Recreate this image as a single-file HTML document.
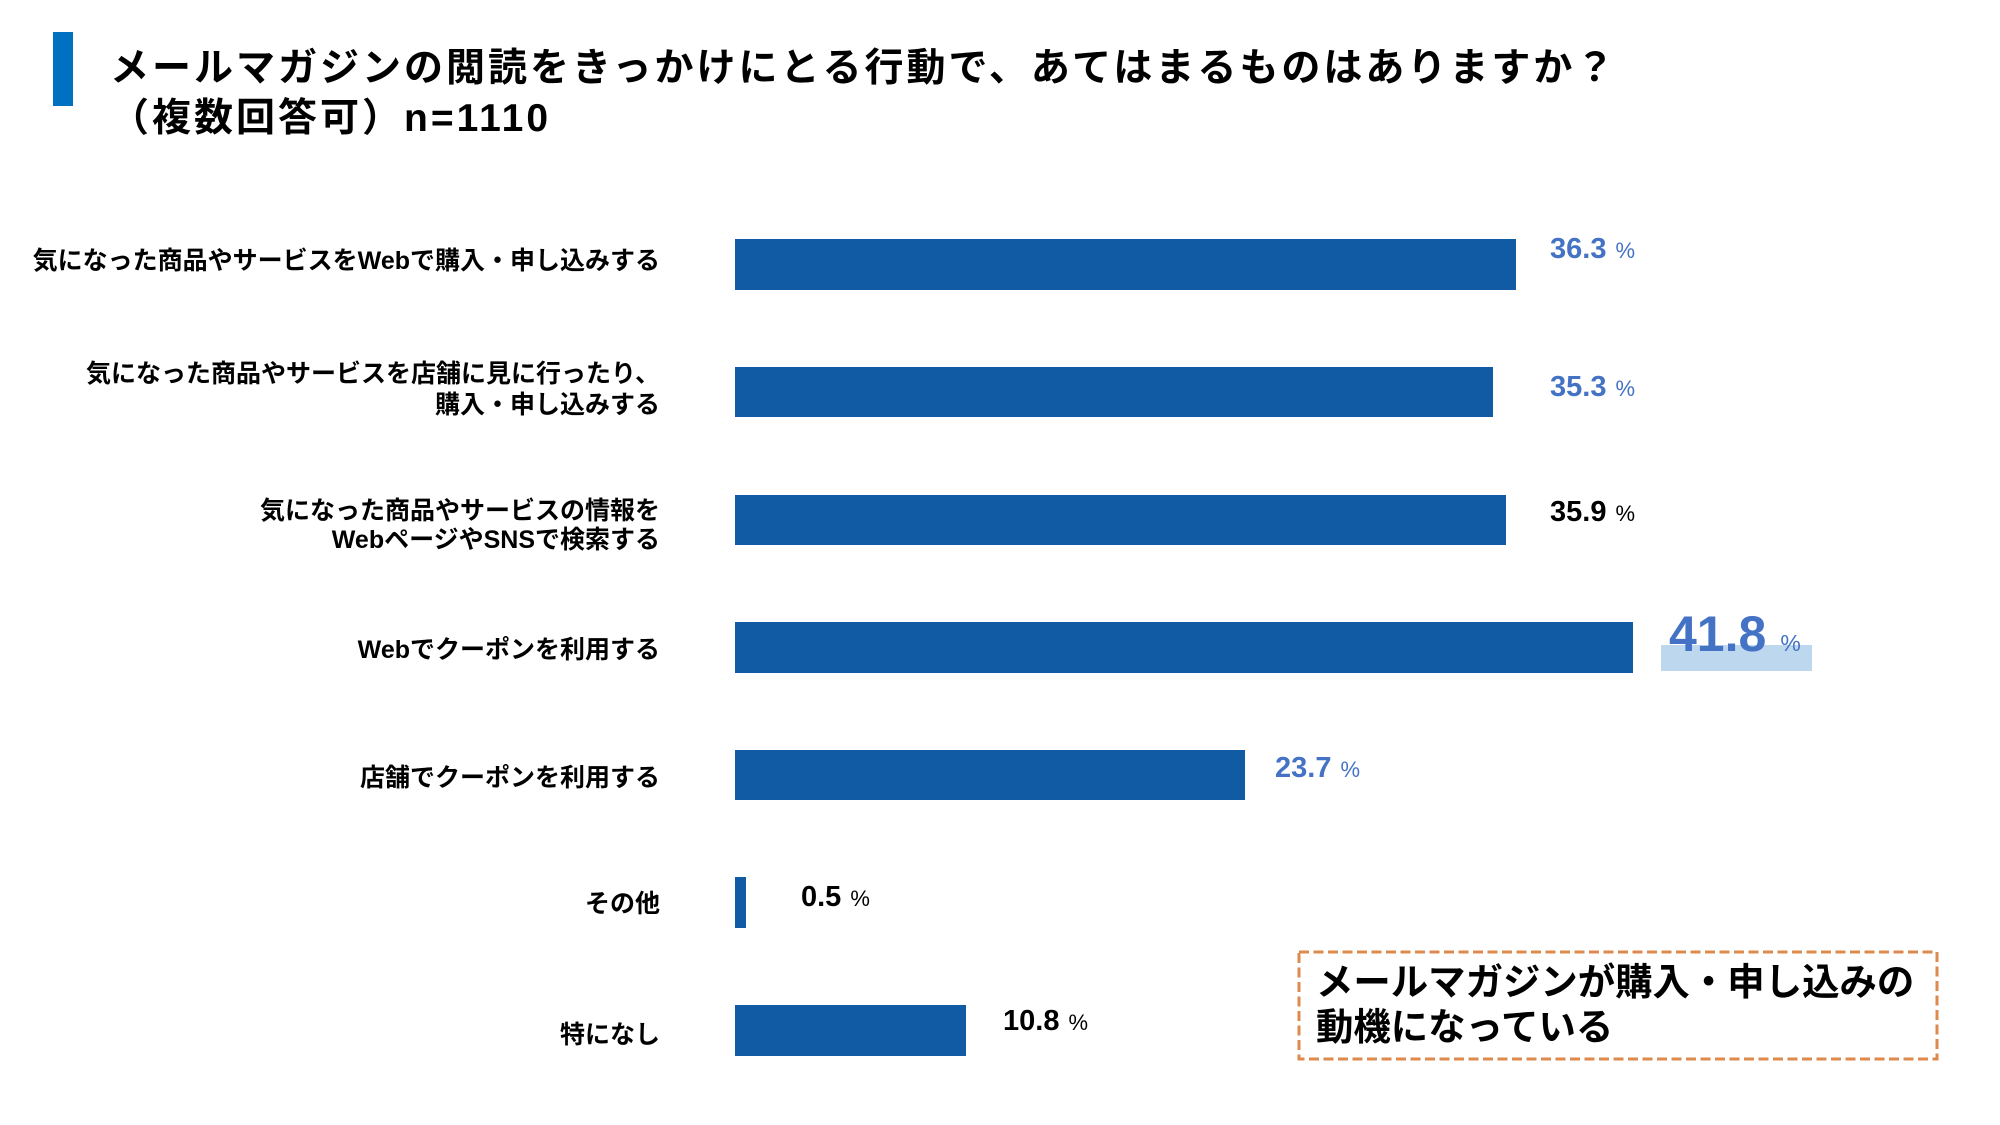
<!DOCTYPE html>
<html lang="ja">
<head>
<meta charset="utf-8">
<style>
  html, body { margin: 0; padding: 0; background: #ffffff; }
  body { width: 2000px; height: 1125px; overflow: hidden; }
  svg { display: block; }
  text { font-family: "Liberation Sans", "Noto Sans CJK JP", sans-serif; }
</style>
</head>
<body>
<svg width="2000" height="1125" viewBox="0 0 2000 1125" xmlns="http://www.w3.org/2000/svg">
  <rect x="0" y="0" width="2000" height="1125" fill="#ffffff"/>

  <!-- Title accent -->
  <rect x="53" y="32" width="20" height="74" fill="#0070C0"/>

  <!-- Title -->
  <text x="110" y="81" font-size="39" font-weight="bold" fill="#000" style="letter-spacing:3px">メールマガジンの閲読をきっかけにとる行動で、あてはまるものはありますか？</text>
  <text x="110" y="131" font-size="39" font-weight="bold" fill="#000" style="letter-spacing:3px">（複数回答可）n=1110</text>

  <!-- Category labels -->
  <g font-size="25" font-weight="bold" fill="#000" text-anchor="end">
    <text x="660" y="269">気になった商品やサービスをWebで購入・申し込みする</text>
    <text x="660" y="382">気になった商品やサービスを店舗に見に行ったり、</text>
    <text x="660" y="413">購入・申し込みする</text>
    <text x="660" y="519">気になった商品やサービスの情報を</text>
    <text x="660" y="548">WebページやSNSで検索する</text>
    <text x="660" y="658">Webでクーポンを利用する</text>
    <text x="660" y="786">店舗でクーポンを利用する</text>
    <text x="660" y="912">その他</text>
    <text x="660" y="1043">特になし</text>
  </g>

  <!-- Bars -->
  <g fill="#115BA4">
    <rect x="735" y="239" width="781" height="51"/>
    <rect x="735" y="367" width="758" height="50"/>
    <rect x="735" y="495" width="771" height="50"/>
    <rect x="735" y="622" width="898" height="51"/>
    <rect x="735" y="750" width="510" height="50"/>
    <rect x="735" y="877" width="11" height="51"/>
    <rect x="735" y="1005" width="231" height="51"/>
  </g>

  <!-- Highlight behind 41.8 -->
  <rect x="1661" y="645" width="151" height="26" fill="#BDD7EE"/>

  <!-- Value labels -->
  <g font-weight="bold">
    <text x="1550" y="258" font-size="29" fill="#4472C4">36.3<tspan font-size="22" font-weight="normal" dx="9">%</tspan></text>
    <text x="1550" y="396" font-size="29" fill="#4472C4">35.3<tspan font-size="22" font-weight="normal" dx="9">%</tspan></text>
    <text x="1550" y="521" font-size="29" fill="#000000">35.9<tspan font-size="22" font-weight="normal" dx="9">%</tspan></text>
    <text x="1669" y="651" font-size="50" fill="#4472C4">41.8<tspan font-size="23" font-weight="normal" dx="14">%</tspan></text>
    <text x="1275" y="777" font-size="29" fill="#4472C4">23.7<tspan font-size="22" font-weight="normal" dx="9">%</tspan></text>
    <text x="801" y="906" font-size="29" fill="#000000">0.5<tspan font-size="22" font-weight="normal" dx="9">%</tspan></text>
    <text x="1003" y="1030" font-size="29" fill="#000000">10.8<tspan font-size="22" font-weight="normal" dx="9">%</tspan></text>
  </g>

  <!-- Callout box -->
  <rect x="1299" y="952" width="638" height="107" fill="none" stroke="#DE8A4F" stroke-width="3" stroke-dasharray="10 4.5"/>
  <text x="1316" y="995" font-size="37.4" font-weight="bold" fill="#000">メールマガジンが購入・申し込みの</text>
  <text x="1316" y="1040" font-size="37.4" font-weight="bold" fill="#000">動機になっている</text>
</svg>
</body>
</html>
